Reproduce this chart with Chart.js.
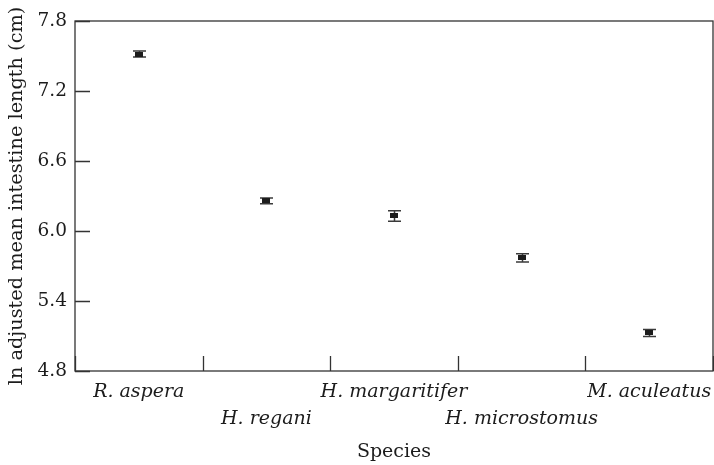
<!DOCTYPE html>
<html>
<head>
<meta charset="utf-8">
<script src="https://cdn.jsdelivr.net/npm/chart.js@4.4.1/dist/chart.umd.min.js"></script>
<style>
html,body{margin:0;padding:0;background:#fff;}
#wrap{width:714px;height:465px;}
</style>
</head>
<body>
<div id="wrap"><canvas id="c" width="714" height="465"></canvas></div>
<script>
const species = ['R. aspera', 'H. regani', 'H. margaritifer', 'H. microstomus', 'M. aculeatus'];
const meanLogLength = [7.517, 6.258, 6.129, 5.769, 5.126];
const errorHalfWidth = [0.025, 0.025, 0.045, 0.035, 0.030];
const yTickValues = [4.8, 5.4, 6.0, 6.6, 7.2, 7.8];

const INK = '#1c1c1c';
const SERIF = '"DejaVu Serif", "Liberation Serif", serif';

const marker = document.createElement('canvas');
marker.width = 8; marker.height = 5;
(function(){ const m = marker.getContext('2d'); m.fillStyle = INK; m.fillRect(0, 0, 8, 5); })();

const framePlugin = {
  id: 'frameAndErrors',
  beforeDatasetsDraw(chart) {
    const ctx = chart.ctx;
    const x = chart.scales.x, y = chart.scales.y;
    ctx.save();
    ctx.strokeStyle = '#3a3a3a';
    ctx.lineWidth = 1.5;
    meanLogLength.forEach((v, i) => {
      const px = Math.round(x.getPixelForValue(i)) + 0.5;
      const lo = y.getPixelForValue(v - errorHalfWidth[i]);
      const hi = y.getPixelForValue(v + errorHalfWidth[i]);
      ctx.beginPath();
      ctx.moveTo(px, lo); ctx.lineTo(px, hi);
      ctx.moveTo(px - 6.5, lo); ctx.lineTo(px + 6.5, lo);
      ctx.moveTo(px - 6.5, hi); ctx.lineTo(px + 6.5, hi);
      ctx.stroke();
    });
    ctx.restore();
  },
  afterDraw(chart) {
    const ctx = chart.ctx;
    const a = chart.chartArea;
    const x = chart.scales.x, y = chart.scales.y;
    ctx.save();
    ctx.strokeStyle = '#333';
    ctx.lineWidth = 1.3;
    ctx.strokeRect(a.left, a.top, a.right - a.left, a.bottom - a.top);
    ctx.beginPath();
    yTickValues.forEach(v => {
      const py = Math.round(y.getPixelForValue(v)) + 0.5;
      ctx.moveTo(a.left, py); ctx.lineTo(a.left + 15, py);
    });
    for (let i = 0; i <= species.length; i++) {
      let px;
      if (i === 0) px = a.left;
      else if (i === species.length) px = a.right;
      else px = (x.getPixelForValue(i - 1) + x.getPixelForValue(i)) / 2;
      px = Math.round(px) + 0.5;
      ctx.moveTo(px, a.bottom); ctx.lineTo(px, a.bottom - 15);
    }
    ctx.stroke();
    ctx.restore();
  }
};

new Chart(document.getElementById('c'), {
  type: 'scatter',
  data: {
    labels: species,
    datasets: [{
      data: meanLogLength.map((v, i) => ({x: i, y: v})),
      pointStyle: marker,
      pointRadius: 4,
      backgroundColor: INK,
      borderColor: INK,
      showLine: false
    }]
  },
  plugins: [framePlugin],
  options: {
    responsive: false,
    animation: false,
    layout: {autoPadding: false, padding: {top: 21, right: 1, left: 0, bottom: 0}},
    plugins: {legend: {display: false}, tooltip: {enabled: false}},
    scales: {
      x: {
        type: 'category',
        labels: species,
        offset: true,
        grid: {display: false, drawTicks: false},
        border: {display: false},
        afterFit(s) { s.height = 94; s.paddingLeft = 0; s.paddingRight = 0; },
        ticks: {
          autoSkip: false,
          maxRotation: 0,
          minRotation: 0,
          padding: 8,
          color: INK,
          font: {family: SERIF, size: 19, style: 'italic', lineHeight: 1.42},
          callback(val, i) { return i % 2 === 0 ? [species[i]] : ['', species[i]]; }
        },
        title: {
          display: true,
          text: 'Species',
          color: INK,
          font: {family: SERIF, size: 19},
          padding: {top: 0, bottom: 2}
        }
      },
      y: {
        min: 4.8,
        max: 7.8,
        grid: {display: false, drawTicks: false},
        border: {display: false},
        afterFit(s) { s.width = 75; },
        afterBuildTicks(s) { s.ticks = yTickValues.map(v => ({value: v})); },
        ticks: {
          padding: 8,
          color: INK,
          font: {family: SERIF, size: 18.5},
          callback(v) { return Number(v).toFixed(1); }
        },
        title: {
          display: true,
          text: 'ln adjusted mean intestine length (cm)',
          color: INK,
          font: {family: SERIF, size: 19.3},
          padding: {top: 5, bottom: 0}
        }
      }
    }
  }
});
</script>
</body>
</html>
